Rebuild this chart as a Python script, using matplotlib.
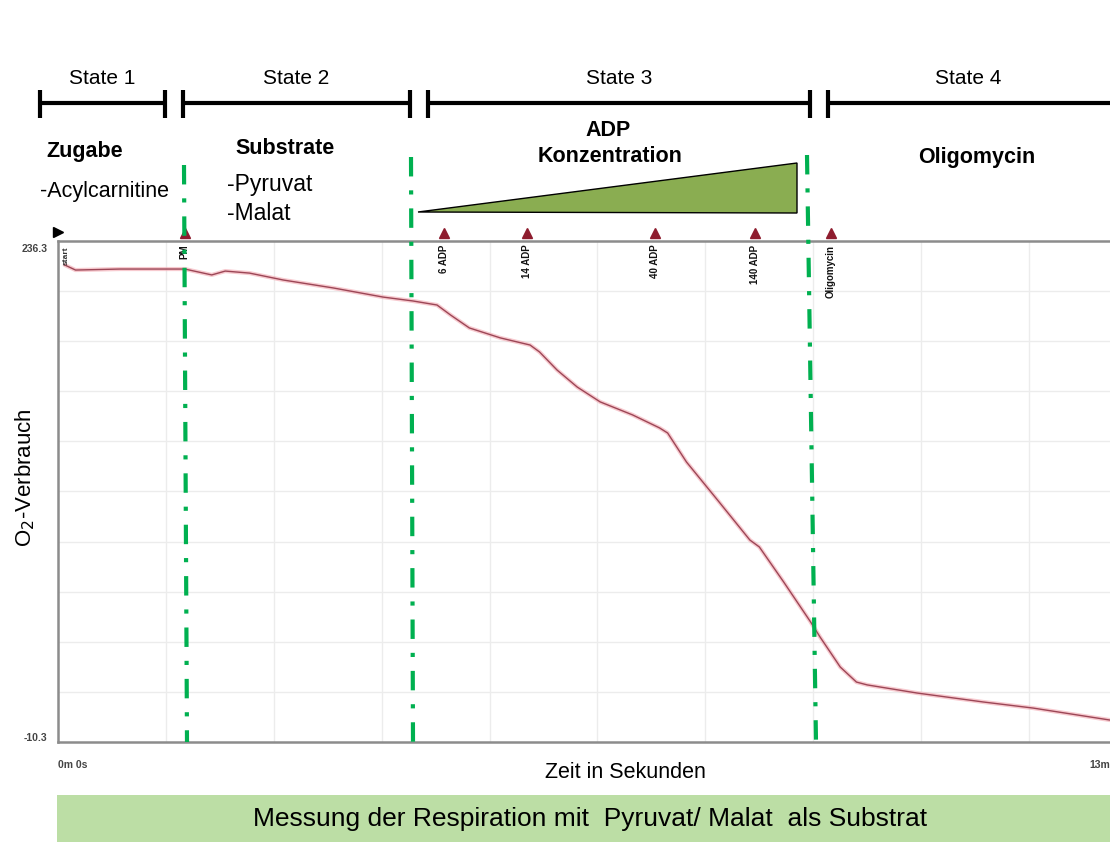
import numpy as np
import matplotlib
matplotlib.use("Agg")
import matplotlib.pyplot as plt
from matplotlib.patches import Polygon, Rectangle
from matplotlib.transforms import blended_transform_factory

plt.rcParams['font.family'] = ['Liberation Sans', 'DejaVu Sans']
plt.rcParams['lines.scale_dashes'] = False

# O2 trace (time in s, signal)
time_s = [5, 13, 46, 94, 114, 124, 142, 167, 204, 241, 263, 281, 291, 305, 328,
          350, 357, 370, 385, 402, 426, 446, 452, 466, 489, 513, 520, 538, 558,
          565, 580, 592, 600, 637, 686, 723, 780]
o2_signal = [224.5, 222.0, 222.5, 222.5, 219.6, 221.5, 220.5, 217.1, 213.2, 208.7,
             206.8, 204.8, 199.9, 193.5, 188.6, 185.1, 181.7, 172.8, 164.4, 157.1,
             150.7, 144.3, 141.8, 127.5, 108.8, 89.1, 85.7, 68.5, 48.8, 41.4, 26.6,
             19.2, 17.8, 13.8, 9.4, 6.4, 0.5]

# injection events
event_time = [94, 286, 348, 443, 517, 573]
event_label = ["PM", "6 ADP", "14 ADP", "40 ADP", "140 ADP", "Oligomycin"]

y_min, y_max = -10.3, 236.3
t_max = 780
x_labels = ["0m 0s", "13m"]

state_names = ["State 1", "State 2", "State 3", "State 4"]

W, H = 1110, 846
fig = plt.figure(figsize=(W / 100, H / 100), dpi=100)

# main trace axes
L, R, T, B = 58, 1110, 241, 742
ax = fig.add_axes([L / W, (H - B) / H, (R - L) / W, (B - T) / H])
ax.set_xlim(0, t_max)
ax.set_ylim(y_min, y_max)
ax.set_xticks(np.arange(80, t_max, 80))
ax.set_yticks(y_min + np.arange(1, 10) * (y_max - y_min) / 10)
ax.tick_params(length=0, labelbottom=False, labelleft=False)
ax.grid(True, color='#ececec', lw=1)
for s in ['left', 'top', 'bottom']:
    ax.spines[s].set_color('#8c8c8c')
    ax.spines[s].set_linewidth(1.8)
ax.spines['right'].set_visible(False)

ax.plot(time_s, o2_signal, color='#f2a7b0', lw=3.0, alpha=0.6, solid_capstyle='round')
ax.plot(time_s, o2_signal, color='#9c4656', lw=1.0)

trans = blended_transform_factory(ax.transData, ax.transAxes)
ax.plot(event_time, [1.016] * len(event_time), linestyle='none', marker='^',
        markersize=6.5, color='#8e1c2e', transform=trans, clip_on=False)
ax.plot([0], [1.018], marker='>', markersize=6.5, color='black',
        transform=trans, clip_on=False)
for t, lab in zip(event_time, event_label):
    ax.text(t, 0.993, lab, rotation=90, ha='center', va='top', fontsize=7,
            fontweight='bold', transform=trans, color='#111111')
ax.text(6, 0.99, "start", rotation=90, ha='center', va='top', fontsize=6,
        fontweight='bold', transform=trans, color='#333333')

ax.text(-0.01, 0.985, "236.3", transform=ax.transAxes, ha='right', va='center',
        fontsize=7.5, fontweight='bold', color='#444444')
ax.text(-0.01, 0.008, "-10.3", transform=ax.transAxes, ha='right', va='center',
        fontsize=7.5, fontweight='bold', color='#444444')
ax.text(0.0, -0.046, x_labels[0], transform=ax.transAxes, ha='left', va='center',
        fontsize=7.5, fontweight='bold', color='#444444')
ax.text(1.0, -0.046, x_labels[1], transform=ax.transAxes, ha='right', va='center',
        fontsize=7.5, fontweight='bold', color='#444444')

# overlay in pixel coordinates for annotations
ov = fig.add_axes([0, 0, 1, 1])
ov.set_xlim(0, W)
ov.set_ylim(H, 0)
ov.axis('off')
ov.patch.set_alpha(0)

ov.text(625, 772, "Zeit in Sekunden", ha='center', va='center', fontsize=15.5)
ov.text(25, 478, "O$_2$-Verbrauch", ha='center', va='center', fontsize=16, rotation=90)

# state bars
bars = [(40, 165, True), (183, 410, True), (428, 810, True), (828, 1112, False)]
for (x0, x1, cap), name in zip(bars, state_names):
    ov.plot([x0, x1], [103, 103], color='black', lw=3, solid_capstyle='butt')
    ov.plot([x0, x0], [90, 118], color='black', lw=3, solid_capstyle='butt')
    if cap:
        ov.plot([x1, x1], [90, 118], color='black', lw=3, solid_capstyle='butt')
    cx = (x0 + x1) / 2 if cap else 968
    ov.text(cx, 78, name, ha='center', va='center', fontsize=15)

ov.text(46, 152, "Zugabe", ha='left', va='center', fontsize=15.5, fontweight='bold')
ov.text(40, 192, "-Acylcarnitine", ha='left', va='center', fontsize=15.5)
ov.text(285, 148, "Substrate", ha='center', va='center', fontsize=15.5, fontweight='bold')
ov.text(227, 185, "-Pyruvat", ha='left', va='center', fontsize=16.5)
ov.text(227, 214, "-Malat", ha='left', va='center', fontsize=16.5)
ov.text(608, 130, "ADP", ha='center', va='center', fontsize=15.5, fontweight='bold')
ov.text(610, 157, "Konzentration", ha='center', va='center', fontsize=15.5, fontweight='bold')
ov.text(977, 157, "Oligomycin", ha='center', va='center', fontsize=15.5, fontweight='bold')

ov.add_patch(Polygon([[418, 212], [797, 163], [797, 213]], closed=True,
                     facecolor='#8aad51', edgecolor='black', lw=1))

# phase boundaries
dash = (0, (14, 10, 3, 10))
for (xa, ya), (xb, yb) in [((184, 165), (187, 742)), ((411, 157), (413, 742)),
                           ((807, 155), (816, 742))]:
    ov.plot([xa, xb], [ya, yb], color='#00b050', lw=3, linestyle=dash)

ov.add_patch(Rectangle((57, 795), 1053, 47, facecolor='#bcdea5', edgecolor='none'))
ov.text(590, 819, "Messung der Respiration mit  Pyruvat/ Malat  als Substrat",
        ha='center', va='center', fontsize=19)

fig.savefig("out.png", dpi=100)
